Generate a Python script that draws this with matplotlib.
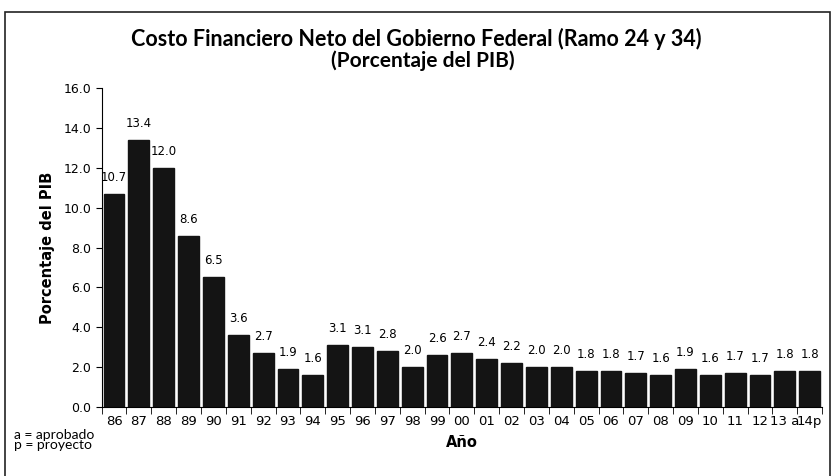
#!/usr/bin/env python3

import numpy as np
import matplotlib
import matplotlib.pyplot as plt
from matplotlib.patches import Rectangle

years = ['86', '87', '88', '89', '90', '91', '92', '93', '94', '95',
         '96', '97', '98', '99', '00', '01', '02', '03', '04', '05',
         '06', '07', '08', '09', '10', '11', '12', '13 a', '14p']
values = [10.7, 13.4, 12.0, 8.6, 6.5, 3.6, 2.7, 1.9, 1.6, 3.1,
          3.1, 2.8, 2.0, 2.6, 2.7, 2.4, 2.2, 2.0, 2.0, 1.8,
          1.8, 1.7, 1.6, 1.9, 1.6, 1.7, 1.7, 1.8, 1.8]
# bar heights as drawn (label for '96 sits above a ~3.0 bar)
heights = [10.7, 13.4, 12.0, 8.6, 6.5, 3.6, 2.7, 1.9, 1.6, 3.1,
           3.0, 2.8, 2.0, 2.6, 2.7, 2.4, 2.2, 2.0, 2.0, 1.8,
           1.8, 1.7, 1.6, 1.9, 1.6, 1.7, 1.6, 1.8, 1.8]

plt.rcParams['font.family'] = ['DejaVu Sans']

fig = plt.figure(figsize=(8.33, 4.76), dpi=100)
ax = fig.add_axes([0.122, 0.145, 0.865, 0.670])

x = np.arange(len(years))
ax.bar(x, heights, width=0.84, color='#141414', edgecolor='#141414')

for xi, h, v in zip(x, heights, values):
    ax.text(xi, h + 0.5, '{:.1f}'.format(v), ha='center', va='bottom', fontsize=8.5)

ax.set_xlim(-0.5, len(years) - 0.5)
ax.set_ylim(0, 16)
ax.set_yticks(np.arange(0, 17, 2))
ax.set_yticklabels(['{:.1f}'.format(t) for t in np.arange(0, 17, 2)], fontsize=9)

ax.set_xticks(x)
ax.set_xticklabels(years, fontsize=9.5)
ax.tick_params(axis='x', length=0, pad=6)
ax.set_xticks(np.arange(-0.5, len(years), 1), minor=True)
ax.tick_params(axis='x', which='minor', length=5, direction='out')
ax.tick_params(axis='y', length=4, direction='out')

for s in ['top', 'right']:
    ax.spines[s].set_visible(False)

ax.set_ylabel('Porcentaje del PIB', fontsize=10.5, fontweight='bold', labelpad=6)
ax.set_xlabel('Año', fontsize=10.5, fontweight='bold', labelpad=5)

fig.text(0.5, 0.918, 'Costo Financiero Neto del Gobierno Federal (Ramo 24 y 34)',
         ha='center', va='center', fontsize=15.5, fontweight='bold', family='Lato')
fig.text(0.507, 0.872, '(Porcentaje del PIB)',
         ha='center', va='center', fontsize=15, fontweight='bold', family='Lato')

fig.text(0.017, 0.075, 'a = aprobado\np = proyecto', ha='left', va='center',
         fontsize=10, linespacing=0.8, family='Lato')

fig.patches.append(Rectangle((0.006, -0.02), 0.99, 0.995, transform=fig.transFigure,
                             fill=False, edgecolor='#222222', linewidth=1.2))

fig.savefig('out.png', dpi=100)
plt.close(fig)
